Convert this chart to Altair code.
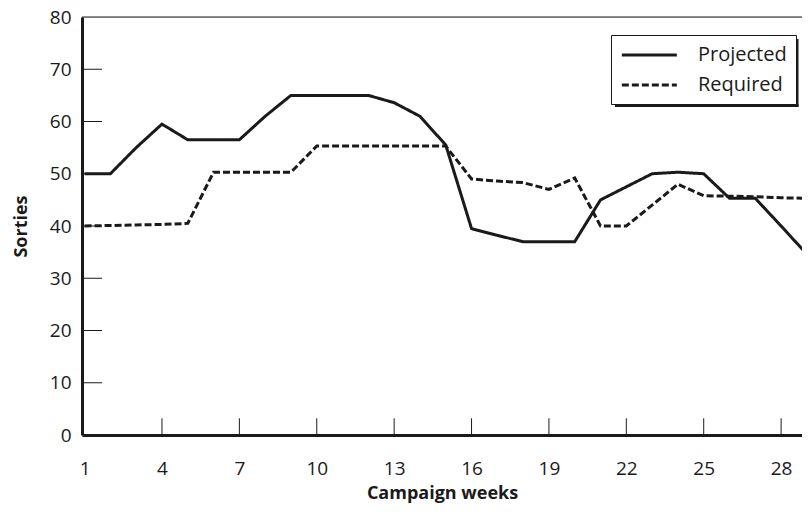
import altair as alt
import pandas as pd

weeks = list(range(1, 30))
projected = [50, 50, 55, 59.5, 56.5, 56.5, 56.5, 61, 65, 65, 65, 65, 63.6, 61, 55.5,
             39.5, 38.2, 37, 37, 37, 45, 47.5, 50, 50.3, 50, 45.3, 45.3, 40, 34.6]
required = [40, 40.1, 40.2, 40.3, 40.5, 50.3, 50.3, 50.3, 50.3, 55.3, 55.3, 55.3, 55.3, 55.3, 55.3,
            49, 48.6, 48.3, 47, 49.2, 40, 40, 44, 48, 45.8, 45.7, 45.6, 45.4, 45.3]
series_names = ["Projected", "Required"]
x_tick_values = [1, 4, 7, 10, 13, 16, 19, 22, 25, 28]
y_tick_values = [0, 10, 20, 30, 40, 50, 60, 70, 80]

FONT = "Open Sans"
INK = "#1a1a1a"
X_MIN, X_MAX = 0.9, 28.81
Y_MIN, Y_MAX = 0, 80

df = pd.DataFrame({
    "week": weeks * 2,
    "sorties": projected + required,
    "series": [series_names[0]] * len(weeks) + [series_names[1]] * len(weeks),
})

xscale = alt.Scale(domain=[X_MIN, X_MAX], nice=False, zero=False)
yscale = alt.Scale(domain=[Y_MIN, Y_MAX], nice=False)

lines = alt.Chart(df).mark_line(strokeWidth=3, color=INK, clip=True).encode(
    x=alt.X("week:Q", scale=xscale,
            axis=alt.Axis(title="Campaign weeks", values=x_tick_values, grid=False, ticks=False,
                          domainWidth=3, domainColor=INK, labelPadding=24, titlePadding=6,
                          labelFontSize=19, titleFontSize=18, labelFont=FONT, titleFont=FONT,
                          titleFontWeight="bold", labelColor=INK, titleColor=INK)),
    y=alt.Y("sorties:Q", scale=yscale,
            axis=alt.Axis(title="Sorties", values=y_tick_values, grid=False, ticks=False,
                          domainWidth=3, domainColor=INK, labelPadding=11, titlePadding=19,
                          labelFontSize=19, titleFontSize=18, labelFont=FONT, titleFont=FONT,
                          titleFontWeight="bold", labelColor=INK, titleColor=INK)),
    strokeDash=alt.StrokeDash("series:N",
                              scale=alt.Scale(domain=series_names, range=[[1, 0], [7, 3]]),
                              legend=alt.Legend(title=None, orient="none", legendX=529, legendY=18,
                                                strokeColor=INK, fillColor="white", padding=9,
                                                symbolType="M-1,0L5,0", symbolSize=336,
                                                symbolStrokeWidth=3, symbolStrokeColor=INK,
                                                symbolFillColor="transparent",
                                                labelFontSize=20, labelFont=FONT, labelColor=INK,
                                                labelOffset=56, rowPadding=9)),
    detail="series:N",
)

ytick_df = pd.DataFrame({"y": [10, 20, 30, 40, 50, 60, 70], "x1": [X_MIN] * 7, "x2": [1.675] * 7})
yticks = alt.Chart(ytick_df).mark_rule(color=INK, strokeWidth=1).encode(
    x=alt.X("x1:Q", scale=xscale), x2="x2:Q", y=alt.Y("y:Q", scale=yscale))

xtick_df = pd.DataFrame({"x": x_tick_values[1:], "y1": [0] * 9, "y2": [3.2] * 9})
xticks = alt.Chart(xtick_df).mark_rule(color=INK, strokeWidth=1).encode(
    x=alt.X("x:Q", scale=xscale), y=alt.Y("y1:Q", scale=yscale), y2="y2:Q")

top_df = pd.DataFrame({"x1": [X_MIN], "x2": [X_MAX], "y": [Y_MAX]})
top = alt.Chart(top_df).mark_rule(color=INK, strokeWidth=1).encode(
    x=alt.X("x1:Q", scale=xscale), x2="x2:Q", y=alt.Y("y:Q", scale=yscale))

# drop shadow behind the legend box (decoration, pixel offsets in the plot area)
shadow_right = alt.Chart(top_df).mark_rule(color=INK, strokeWidth=3).encode(
    x=alt.value(715), y=alt.value(22), y2=alt.value(90))
shadow_bottom = alt.Chart(top_df).mark_rule(color=INK, strokeWidth=3).encode(
    x=alt.value(533), x2=alt.value(716.5), y=alt.value(88.5))

chart = alt.layer(yticks, xticks, top, shadow_right, shadow_bottom, lines).properties(
    width=720, height=418,
    autosize=alt.AutoSizeParams(type="none"),
    padding={"left": 74, "top": 9, "right": 0, "bottom": 71},
).configure_view(stroke=None).configure(background="white")

chart.save("out.html", embed_options={"renderer": "svg", "actions": False})
